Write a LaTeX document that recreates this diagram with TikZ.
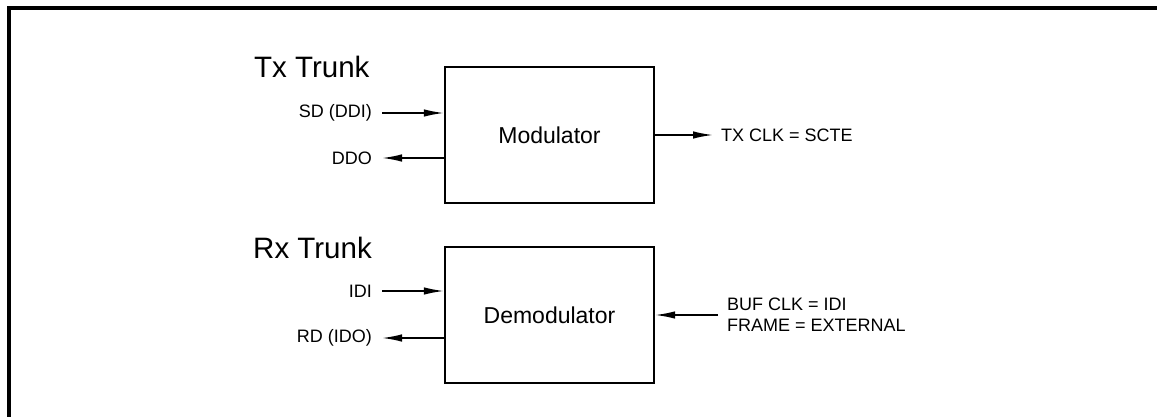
\documentclass[tikz,border=0pt]{standalone}
\usepackage{fontspec}
\setmainfont{Liberation Sans}
\usetikzlibrary{arrows.meta}
\begin{document}
\begin{tikzpicture}[x=1pt,y=-1pt,
  blockbox/.style={draw,line width=2.2pt,minimum width=209pt,minimum height=136pt,inner sep=0pt,font=\fontsize{23}{26}\selectfont},
  trunk/.style={font=\fontsize{29.5}{32}\selectfont,inner sep=0pt},
  sig/.style={font=\fontsize{18}{21}\selectfont,inner sep=0pt},
  conn/.style={line width=1.6pt,-{Latex[length=20pt,width=7.5pt]}}]
\useasboundingbox (0,0) rectangle (1157,417);
\draw[line width=4pt] (1157,8) -- (9,8) -- (9,417);
% blocks
\node[blockbox] (mod) at (549.5,135) {Modulator};
\node[blockbox] (dem) at (549.5,315) {Demodulator};
% trunk titles
\node[trunk,anchor=base west] (tx) at (254,78) {Tx Trunk};
\node[trunk,anchor=base west] (rx) at (253,258) {Rx Trunk};
% left labels
\node[sig,anchor=east] (sd) at (372,113) {SD (DDI)};
\node[sig,anchor=east] (ddo) at (372,158) {DDO};
\node[sig,anchor=east] (idi) at (372,291) {IDI};
\node[sig,anchor=east] (rd) at (372,338) {RD (IDO)};
% right labels
\node[sig,anchor=west] (txclk) at (721,135) {TX CLK = SCTE};
\node[sig,anchor=west,align=left] (buf) at (727,315) {BUF CLK = IDI\\FRAME = EXTERNAL};
% connectors
\draw[conn] ([xshift=10pt]sd.east) -- (mod.west |- sd.east);
\draw[conn] (mod.west |- ddo.east) -- ([xshift=10pt]ddo.east);
\draw[conn] ([xshift=10pt]idi.east) -- (dem.west |- idi.east);
\draw[conn] (dem.west |- rd.east) -- ([xshift=10pt]rd.east);
\draw[conn] (mod.east) -- ([xshift=-8pt]txclk.west);
\draw[conn] ([xshift=-9pt]buf.west) -- (dem.east);
\end{tikzpicture}
\end{document}
